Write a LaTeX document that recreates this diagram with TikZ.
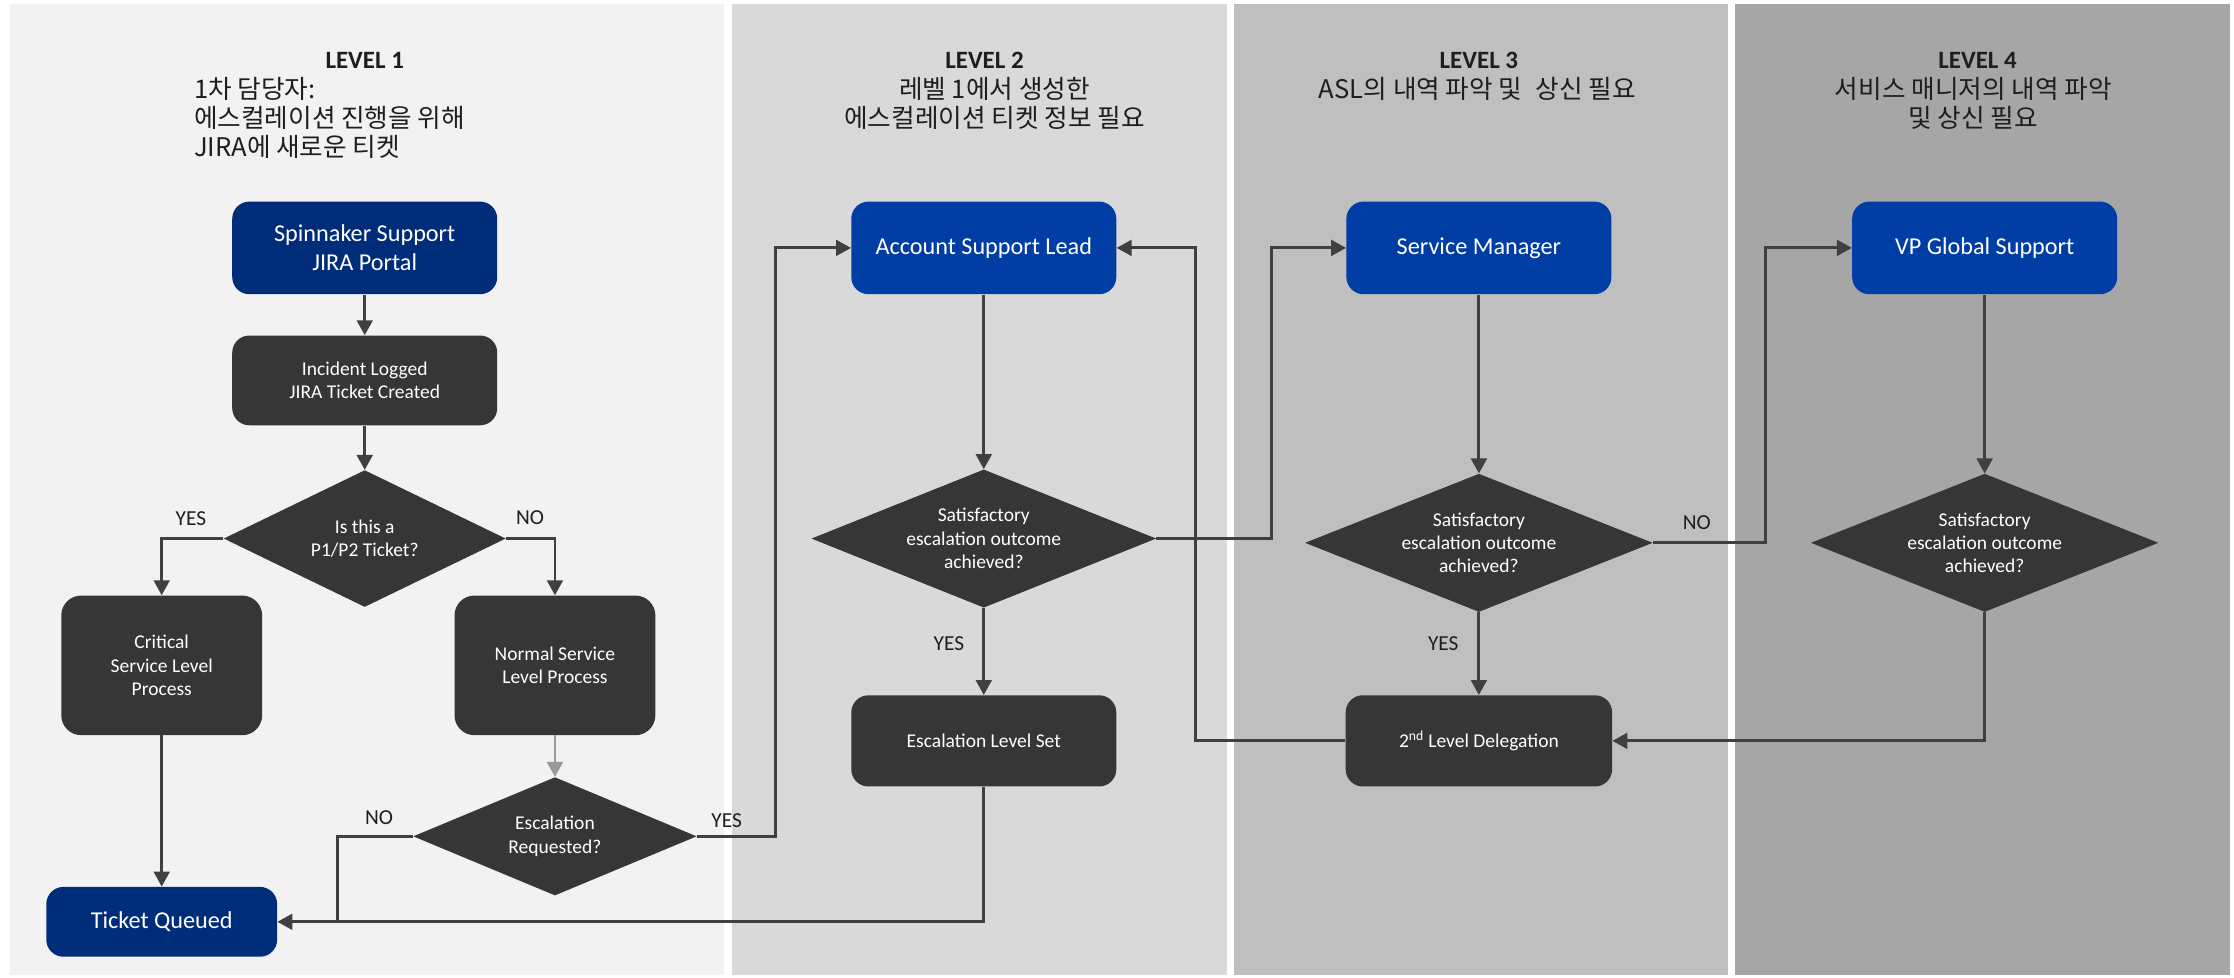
\documentclass[tikz,border=0pt]{standalone}
\usepackage{fontspec}
\setmainfont{Carlito}
\newfontfamily\kr{Noto Sans CJK KR}
\usetikzlibrary{shapes.geometric,arrows.meta,calc}
\definecolor{navy}{RGB}{0,45,122}
\definecolor{blu}{RGB}{0,61,165}
\definecolor{dk}{RGB}{54,54,54}
\definecolor{lc}{RGB}{64,64,64}
\definecolor{gl}{RGB}{153,153,153}
\definecolor{pA}{RGB}{242,242,242}
\definecolor{pB}{RGB}{217,217,217}
\definecolor{pC}{RGB}{191,191,191}
\definecolor{pD}{RGB}{166,166,166}
\definecolor{tx}{RGB}{30,30,30}
\begin{document}
\begin{tikzpicture}[x=1pt,y=-1pt,
 box/.style={rectangle, rounded corners=12pt, inner sep=0pt, align=center, text=white},
 big/.style={font=\fontsize{17}{20.5}\selectfont},
 small/.style={font=\fontsize{13.7}{16.4}\selectfont},
 topbox/.style={box,big,minimum width=186pt,minimum height=65pt},
 procbox/.style={box,small,fill=dk},
 dec/.style={diamond, aspect=2.5, inner sep=0pt, fill=dk, text=white, align=center, small},
 arr/.style={draw=lc, line width=2pt, -{Triangle[length=10.5pt,width=11pt]}},
 ln/.style={draw=lc, line width=2pt},
 lbl/.style={text=tx, inner sep=0pt, font=\fontsize{15}{18}\selectfont},
 hdr/.style={text=tx, inner sep=0pt, font=\bfseries\fontsize{17.5}{21}\selectfont},
 kor/.style={text=tx, inner sep=0pt, font=\kr\fontsize{18}{20.5}\selectfont},
]
% background and lanes
\fill[white] (0,0) rectangle (1568,686);
\useasboundingbox (0,0) rectangle (1568,686);
\fill[pA] (7,3) rectangle (508,684);
\fill[pB] (514,3) rectangle (861,684);
\fill[pC] (866,3) rectangle (1213,684);
\fill[pD] (1218,3) rectangle (1565,684);

% headers
\node[hdr, anchor=base] (h1) at (256,48) {LEVEL 1};
\node[kor, anchor=north west, align=left] (k1) at (136,54) {1차 담당자:\\에스컬레이션 진행을 위해\\JIRA에 새로운 티켓};
\node[hdr, anchor=base] (h2) at (691,48) {LEVEL 2};
\node[kor, anchor=north, align=center] (k2) at (698,54) {레벨 1에서 생성한\\에스컬레이션 티켓 정보 필요};
\node[hdr, anchor=base] (h3) at (1038,48) {LEVEL 3};
\node[kor, anchor=north] (k3) at (1037,54) {ASL의 내역 파악 및\hspace{0.3em} 상신 필요};
\node[hdr, anchor=base] (h4) at (1388,48) {LEVEL 4};
\node[kor, anchor=north, align=center] (k4) at (1385,54) {서비스 매니저의 내역 파악\\및 상신 필요};

% level 1
\node[topbox, fill=navy] (spin) at (256,174) {Spinnaker Support\\JIRA Portal};
\node[procbox, minimum width=186pt, minimum height=63pt] (inc) at (256,267) {Incident Logged\\JIRA Ticket Created};
\node[dec, minimum width=198pt, minimum height=96pt] (d1) at (256,378) {Is this a\\P1/P2 Ticket?};
\node[procbox, minimum width=141pt, minimum height=98pt, rounded corners=14pt] (crit) at (113.5,467) {Critical\\Service Level\\Process};
\node[procbox, minimum width=141pt, minimum height=98pt, rounded corners=14pt] (norm) at (389.5,467) {Normal Service\\Level Process};
\node[dec, minimum width=199pt, minimum height=83pt] (d2) at (389.5,587) {Escalation\\Requested?};
\node[box, big, fill=navy, minimum width=162pt, minimum height=49pt] (tq) at (113.5,647) {Ticket Queued};

% level 2
\node[topbox, fill=blu] (asl) at (690.5,174) {Account Support Lead};
\node[dec, minimum width=242pt, minimum height=97pt] (d3) at (690.5,378) {Satisfactory\\escalation outcome\\achieved?};
\node[procbox, minimum width=186pt, minimum height=64pt] (els) at (690.5,520) {Escalation Level Set};

% level 3
\node[topbox, fill=blu] (sm) at (1038,174) {Service Manager};
\node[dec, minimum width=244pt, minimum height=97pt] (d4) at (1038,381) {Satisfactory\\escalation outcome\\achieved?};
\node[procbox, minimum width=187pt, minimum height=64pt] (del) at (1038,520) {2\textsuperscript{nd} Level Delegation};

% level 4
\node[topbox, fill=blu] (vp) at (1393,174) {VP Global Support};
\node[dec, minimum width=244pt, minimum height=97pt] (d5) at (1393,381) {Satisfactory\\escalation outcome\\achieved?};

% connectors
\draw[arr] (spin) -- (inc);
\draw[arr] (inc) -- (d1);
\draw[arr] (d1.west) -| (crit.north);
\draw[arr] (d1.east) -| (norm.north);
\draw[arr, draw=gl] (norm) -- (d2);
\draw[arr] (crit) -- (tq);
\coordinate (j) at (237,647);
\draw[ln] (d2.west) -| (j);
\draw[arr] (els.south) |- (tq.east);
\draw[arr] (d2.east) -- ++(55,0) |- (asl.west);
\draw[arr] (asl) -- (d3);
\draw[arr] (d3) -- (els);
\draw[arr] (d3.east) -- ++(81,0) |- (sm.west);
\draw[arr] (sm) -- (d4);
\draw[arr] (d4) -- (del);
\draw[arr] (del.west) -- ++(-105.5,0) |- (asl.east);
\draw[arr] (d4.east) -- ++(79,0) |- (vp.west);
\draw[arr] (vp) -- (d5);
\draw[arr] (d5.south) |- (del.east);

% labels
\node[lbl] (y1) at (134,364) {YES};
\node[lbl] (n1) at (372,363) {NO};
\node[lbl] (n2) at (266,574) {NO};
\node[lbl] (y2) at (510,576) {YES};
\node[lbl] (y3) at (666,452) {YES};
\node[lbl] (y4) at (1013,452) {YES};
\node[lbl] (n3) at (1191,367) {NO};
\end{tikzpicture}
\end{document}
